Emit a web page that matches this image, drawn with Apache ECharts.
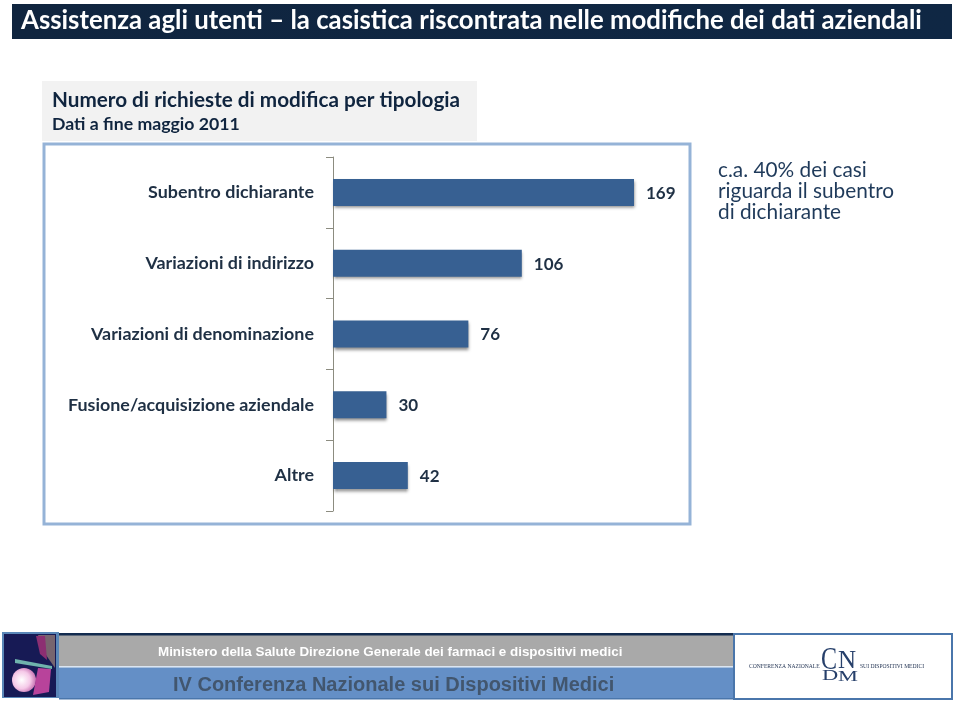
<!DOCTYPE html>
<html><head><meta charset="utf-8">
<style>html,body{margin:0;padding:0;background:#fff}#c{width:960px;height:707px}</style>
<script src="https://cdn.jsdelivr.net/npm/echarts@6/dist/echarts.min.js"></script>
</head><body><div id="c"></div>
<script>
const categories = ["Subentro dichiarante","Variazioni di indirizzo","Variazioni di denominazione","Fusione/acquisizione aziendale","Altre"];
const values = [169,106,76,30,42];
const headerTitle = "Assistenza agli utenti – la casistica riscontrata nelle modifiche dei dati aziendali";
const chartTitle = "Numero di richieste di modifica per tipologia";
const chartSubtitle = "Dati a fine maggio 2011";
const noteLines = ["c.a. 40% dei casi","riguarda il subentro","di dichiarante"];
const footerTop = "Ministero della Salute Direzione Generale dei farmaci e dispositivi medici";
const footerBottom = "IV Conferenza Nazionale sui Dispositivi Medici";

const rect = (x,y,w,h,fill,extra) => ({type:'rect',shape:{x,y,width:w,height:h},style:Object.assign({fill},extra||{}),silent:true});
const text = (x,y,t,font,fill,extra,sx) => ({type:'text',x,y,scaleX:sx||1,style:Object.assign({text:t,font,fill,verticalAlign:'middle',align:'left'},extra||{}),silent:true});

const graphics = [
  rect(12,4,940,35,new echarts.graphic.LinearGradient(0,0,1,0,[{offset:0,color:'#10253f'},{offset:1,color:'#0f2744'}])),
  text(21,21,headerTitle,"bold 25.77px Lato",'#ffffff'),
  rect(42,81,435,60,'#f2f2f2'),
  text(52,100,chartTitle,"bold 20.7px Lato",'#10253f'),
  text(52,124.5,chartSubtitle,"bold 17.7px Lato",'#10253f'),
  rect(44,144,646,380,'#ffffff',{stroke:'#95b3d7',lineWidth:3}),
  ...noteLines.map((t,i)=>text(718,170+i*21.3,t,"20.8px Lato",'#1f3a5a')),
  // footer
  rect(2,632,57,66,'#5a87b8'),
  rect(4,634,52,63,'#171a55'),
  {type:'polygon',shape:{points:[[38,635],[55,635],[55,668],[46,655]]},style:{fill:'#77656f'},silent:true},
  {type:'polygon',shape:{points:[[36,636],[45,636],[47,660],[40,654]]},style:{fill:'#8c2f72'},silent:true},
  {type:'circle',shape:{cx:24,cy:680,r:12},style:{fill:new echarts.graphic.RadialGradient(0.4,0.5,0.6,[{offset:0,color:'#ffffff'},{offset:0.6,color:'#f5c9e8'},{offset:1,color:'#c56fb0'}])},silent:true},
  {type:'polygon',shape:{points:[[38,668],[51,669],[49,692],[33,695]]},style:{fill:'#b8439b'},silent:true},
  {type:'polygon',shape:{points:[[15,659],[52,666],[52,669],[15,663]]},style:{fill:'#6fb3ad'},silent:true},
  rect(59,634,675,32,'#a9a9a9'),
  rect(59,633,675,2.5,'#132b4f'),
  rect(59,666,675,1.5,'#dbe5f1'),
  rect(59,667.5,675,31,'#648fc6'),
  rect(59,698,675,1.5,'#4a76ab'),
  text(158,652,footerTop,"bold 13.4px 'Liberation Sans'",'#ffffff'),
  text(173,685,footerBottom,"bold 20px 'Liberation Sans'",'#42566e'),
  rect(734,634,218,65,'#ffffff',{stroke:'#4a76ab',lineWidth:2}),
  text(749,667,"CONFERENZA NAZIONALE","5.6px 'Liberation Serif'",'#1f3050'),
  text(821,661,"C","32px 'Liberation Serif'",'#27406b',null,0.75),
  text(838,661,"N","25px 'Liberation Serif'",'#27406b',null,1),
  text(822,676,"D","15px 'Liberation Serif'",'#27406b',null,1.5),
  text(838,677,"M","14px 'Liberation Serif'",'#27406b',null,1.6),
  text(860,667,"SUI DISPOSITIVI MEDICI","5.6px 'Liberation Serif'",'#1f3050')
];

const chart = echarts.init(document.getElementById('c'),null,{renderer:'canvas',width:960,height:707});
chart.setOption({
  animation:false,
  backgroundColor:'#ffffff',
  graphic:{elements:graphics.map(g=>Object.assign(g,{z:-1,zlevel:0}))},
  grid:{left:333,top:157,width:320.6,height:354},
  xAxis:{type:'value',min:0,max:180,show:false},
  yAxis:{type:'category',inverse:true,data:categories,
    axisLine:{show:true,lineStyle:{color:'#8c8c80',width:1}},
    axisTick:{show:true,length:7,lineStyle:{color:'#8c8c80',width:1}},
    axisLabel:{margin:19,fontFamily:'Lato',fontWeight:'bold',fontSize:17.9,color:'#1f3044'}
  },
  series:[{type:'bar',data:values,barWidth:27,
    itemStyle:{color:'#376092',shadowColor:'rgba(0,0,0,0.45)',shadowBlur:3,shadowOffsetX:0.5,shadowOffsetY:2.5},
    label:{show:true,position:'right',distance:12,offset:[0,1],fontFamily:'Lato',fontWeight:'bold',fontSize:17,color:'#1f3044'}
  }]
});
</script></body></html>
